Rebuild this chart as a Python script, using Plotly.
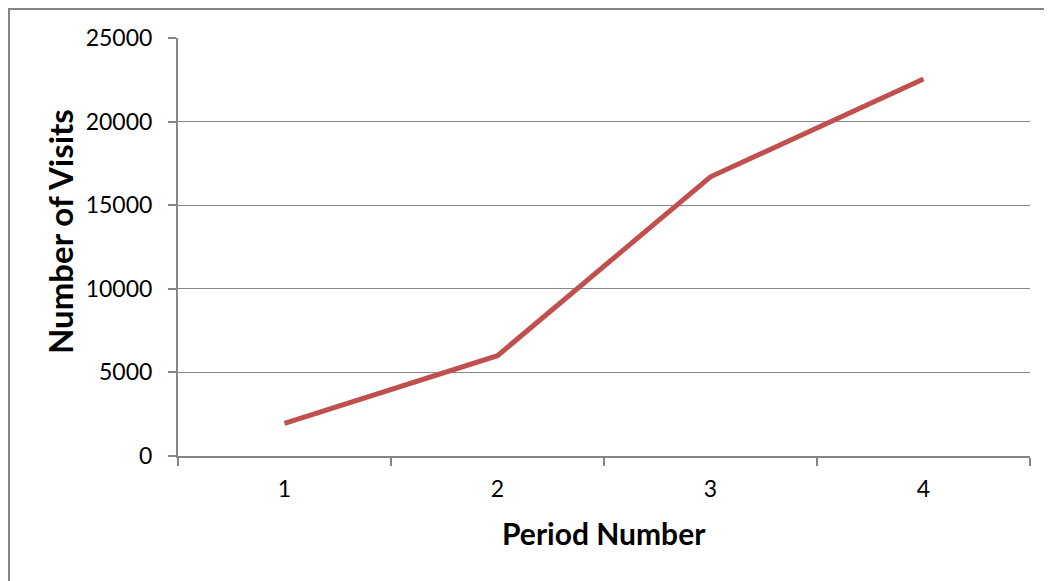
import plotly.graph_objects as go

periods = ["1", "2", "3", "4"]
visits = [1950, 6000, 16700, 22550]
y_ticks = [0, 5000, 10000, 15000, 20000, 25000]

x_title = "Period Number"
y_title = "Number of Visits"

AXIS_GRAY = "#868686"
FONT = "Lato"

# page body has an 8px margin, so the figure is drawn at (8, 8)
L, T, PW, PH = 170, 30, 852, 418

fig = go.Figure()
fig.add_trace(go.Scatter(
    x=periods, y=visits, mode="lines",
    line=dict(color="#C0504D", width=5),
    hoverinfo="x+y", showlegend=False,
))

fig.update_layout(
    width=L + PW + 22, height=T + PH + 125,
    margin=dict(l=L, r=22, t=T, b=125),
    paper_bgcolor="white", plot_bgcolor="white",
    font=dict(family=FONT, size=23, color="black"),
    xaxis=dict(
        type="category", range=[-0.5, 3.5],
        showline=True, linecolor=AXIS_GRAY, linewidth=2,
        ticks="outside", tickson="boundaries", ticklen=8,
        tickcolor=AXIS_GRAY, tickwidth=2,
        showgrid=False, zeroline=False,
        tickfont=dict(family=FONT, size=23),
        ticklabelstandoff=11,
    ),
    yaxis=dict(
        range=[0, 25000], tickvals=y_ticks, tickformat="d",
        showline=True, linecolor=AXIS_GRAY, linewidth=2,
        ticks="outside", ticklen=8, tickcolor=AXIS_GRAY, tickwidth=2,
        showgrid=True, gridcolor=AXIS_GRAY, gridwidth=1.2,
        zeroline=False,
        tickfont=dict(family=FONT, size=23),
        ticklabelstandoff=11,
    ),
    annotations=[
        dict(text=f"<b>{x_title}</b>", xref="paper", yref="paper",
             x=0.5, y=-77 / PH, xanchor="center", yanchor="middle",
             showarrow=False, font=dict(family=FONT, size=30)),
        dict(text=f"<b>{y_title}</b>", xref="paper", yref="paper",
             x=-118 / PW, y=1 - (232 - 38) / PH, xanchor="center", yanchor="middle",
             textangle=-90, showarrow=False, font=dict(family=FONT, size=33)),
    ],
    shapes=[
        dict(type="rect", xref="paper", yref="paper",
             x0=(1 - L) / PW, x1=1.2, y0=-0.6, y1=1 + (T - 1) / PH,
             line=dict(color=AXIS_GRAY, width=2), fillcolor="rgba(0,0,0,0)", layer="below"),
    ],
)

fig.write_html("out.html")
